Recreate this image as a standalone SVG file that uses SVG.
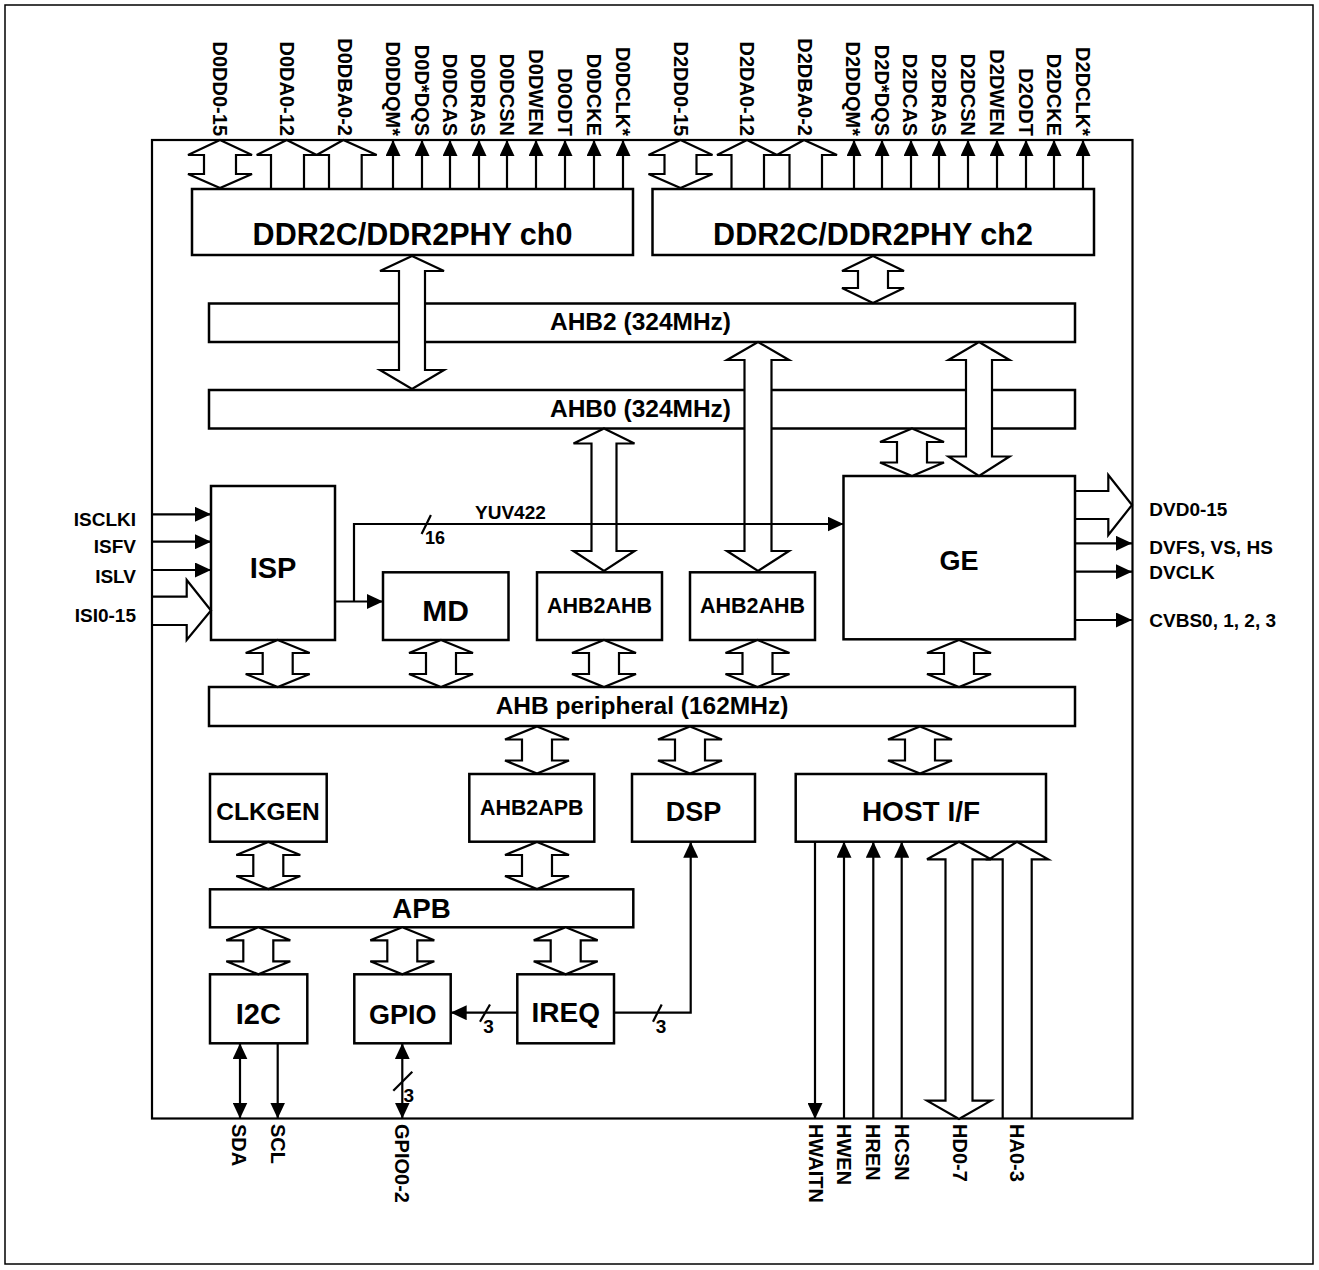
<svg xmlns="http://www.w3.org/2000/svg" xmlns:xlink="http://www.w3.org/1999/xlink" width="1319" height="1270" viewBox="0 0 1319 1270">
<style>
.b{fill:#fff;stroke:#000;stroke-width:2.5}
.fa{fill:#fff;stroke:#000;stroke-width:2.2;stroke-linejoin:miter}
.oa{fill:none;stroke:#000;stroke-width:2.2;stroke-linejoin:miter}
.ln{fill:none;stroke:#000;stroke-width:2.2}
.t{font-family:"Liberation Sans",Arial,sans-serif;font-weight:bold;fill:#000}
.m{text-anchor:middle}
.e{text-anchor:end}
.p{font-size:20px}
.s{font-size:19px}
</style>
<defs>
<marker id="ah" viewBox="0 0 16 15" refX="16" refY="7.5" markerWidth="16" markerHeight="15" markerUnits="userSpaceOnUse" orient="auto-start-reverse"><path d="M0,0 L16,7.5 L0,15 z" fill="#000"/></marker>
<polygon id="bd" class="fa" points="0,0 32,13 15,13 15,34 32,34 0,47 -32,34 -15,34 -15,13 -32,13"/>
</defs>
<rect x="0" y="0" width="1319" height="1270" fill="#fff"/>
<rect x="5" y="5" width="1308" height="1259" fill="none" stroke="#000" stroke-width="1.5"/>
<g id="chip"><rect x="152" y="140" width="980.5" height="978.5" fill="none" stroke="#000" stroke-width="2.2"/></g>

<g id="ddr0"><rect class="b" x="192" y="189" width="441" height="66"/><text class="t m" x="412.5" y="245" font-size="30.5">DDR2C/DDR2PHY ch0</text></g>
<g id="ddr2"><rect class="b" x="652.5" y="189" width="441.5" height="66"/><text class="t m" x="873" y="245" font-size="30.5">DDR2C/DDR2PHY ch2</text></g>
<g id="ahb2"><rect class="b" x="209" y="303.5" width="866" height="38.5"/><text class="t m" x="640.5" y="330" font-size="24.5">AHB2 (324MHz)</text></g>
<g id="ahb0"><rect class="b" x="209" y="390" width="866" height="38.5"/><text class="t m" x="640.5" y="416.7" font-size="24.5">AHB0 (324MHz)</text></g>
<g id="isp"><rect class="b" x="211" y="486" width="124" height="154"/><text class="t m" x="273" y="578.3" font-size="29">ISP</text></g>
<g id="md"><rect class="b" x="383" y="572.3" width="125.5" height="67.7"/><text class="t m" x="445.7" y="621" font-size="30">MD</text></g>
<g id="ahb2ahb1"><rect class="b" x="537" y="572.3" width="125" height="67.7"/><text class="t m" x="599.5" y="613" font-size="21.5">AHB2AHB</text></g>
<g id="ahb2ahb2"><rect class="b" x="690" y="572.3" width="125" height="67.7"/><text class="t m" x="752.5" y="613" font-size="21.5">AHB2AHB</text></g>
<g id="ge"><rect class="b" x="843.5" y="476" width="231.5" height="163.3"/><text class="t m" x="959" y="570" font-size="27">GE</text></g>
<g id="ahbp"><rect class="b" x="209" y="687" width="866" height="39"/><text class="t m" x="642" y="713.5" font-size="24.5">AHB peripheral (162MHz)</text></g>
<g id="clkgen"><rect class="b" x="210" y="774" width="116.7" height="67.7"/><text class="t m" x="268" y="820" font-size="24.5">CLKGEN</text></g>
<g id="ahb2apb"><rect class="b" x="469.3" y="774" width="125" height="67.7"/><text class="t m" x="531.7" y="815" font-size="21.4">AHB2APB</text></g>
<g id="dsp"><rect class="b" x="632" y="774" width="123" height="67.7"/><text class="t m" x="693.5" y="821" font-size="27">DSP</text></g>
<g id="host"><rect class="b" x="795.7" y="774" width="250.3" height="67.7"/><text class="t m" x="921" y="821" font-size="28">HOST I/F</text></g>
<g id="apb"><rect class="b" x="210" y="889.3" width="423.3" height="38"/><text class="t m" x="421.5" y="918.3" font-size="27.7">APB</text></g>
<g id="i2c"><rect class="b" x="210" y="974.3" width="97.3" height="69"/><text class="t m" x="258.3" y="1024" font-size="29">I2C</text></g>
<g id="gpio"><rect class="b" x="354.3" y="974.3" width="96.4" height="69"/><text class="t m" x="402.8" y="1024" font-size="27">GPIO</text></g>
<g id="ireq"><rect class="b" x="517.3" y="974.3" width="96.7" height="69"/><text class="t m" x="565.8" y="1021.7" font-size="28">IREQ</text></g>

<g id="connectors">
<!-- DDR ch0 pins -->
<polygon class="fa" points="220,140 252,155 236,155 236,174 252,174 220,188 188,174 204,174 204,155 188,155"/>
<polyline class="oa" points="271,189 271,155 256.7,155 286.7,140 316.7,155 304,155 304,189"/>
<polyline class="oa" points="329,189 329,155 316.7,155 343.3,140 376.7,155 361.7,155 361.7,189"/>
<g class="ln" marker-end="url(#ah)">
<line x1="393" y1="189" x2="393" y2="140"/><line x1="422" y1="189" x2="422" y2="140"/><line x1="450" y1="189" x2="450" y2="140"/>
<line x1="479" y1="189" x2="479" y2="140"/><line x1="507" y1="189" x2="507" y2="140"/><line x1="536" y1="189" x2="536" y2="140"/>
<line x1="565" y1="189" x2="565" y2="140"/><line x1="594" y1="189" x2="594" y2="140"/><line x1="623" y1="189" x2="623" y2="140"/>
</g>
<!-- DDR ch2 pins -->
<polygon class="fa" points="680.5,140 712.5,155 696.5,155 696.5,174 712.5,174 680.5,188 648.5,174 664.5,174 664.5,155 648.5,155"/>
<polyline class="oa" points="731.5,189 731.5,155 717,155 747,140 777,155 764,155 764,189"/>
<polyline class="oa" points="789.5,189 789.5,155 777,155 804,140 837,155 822,155 822,189"/>
<g class="ln" marker-end="url(#ah)">
<line x1="854" y1="189" x2="854" y2="140"/><line x1="882" y1="189" x2="882" y2="140"/><line x1="911" y1="189" x2="911" y2="140"/>
<line x1="939" y1="189" x2="939" y2="140"/><line x1="968" y1="189" x2="968" y2="140"/><line x1="997" y1="189" x2="997" y2="140"/>
<line x1="1026" y1="189" x2="1026" y2="140"/><line x1="1054" y1="189" x2="1054" y2="140"/><line x1="1083" y1="189" x2="1083" y2="140"/>
</g>
<!-- bus arrows -->
<polygon class="fa" points="412,256 444,271 425,271 425,370 444,370 412,389 380,370 399,370 399,271 380,271"/>
<polygon class="fa" points="873,256 904,271 888,271 888,288 904,288 873,303 842,288 858,288 858,271 842,271"/>
<polygon class="fa" points="758,342 789,360 771.5,360 771.5,551 789,551 758,571 727,551 744.5,551 744.5,360 727,360"/>
<polygon class="fa" points="979,342 1009.5,360 992,360 992,456.5 1009.5,456.5 979,476 948.5,456.5 966,456.5 966,360 948.5,360"/>
<polygon class="fa" points="604,428.5 634.5,443.5 616.5,443.5 616.5,551 634.5,551 604,571 573.5,551 591.5,551 591.5,443.5 573.5,443.5"/>
<polygon class="fa" points="912,428.5 944,442 927,442 927,462.5 944,462.5 912,476 880,462.5 897,462.5 897,442 880,442"/>
<use xlink:href="#bd" x="277.7" y="640"/>
<use xlink:href="#bd" x="441" y="640"/>
<use xlink:href="#bd" x="604" y="640"/>
<use xlink:href="#bd" x="757.5" y="640"/>
<use xlink:href="#bd" x="959" y="640"/>
<use xlink:href="#bd" x="537" y="726.5"/>
<use xlink:href="#bd" x="690" y="726.5"/>
<use xlink:href="#bd" x="920" y="726.5"/>
<use xlink:href="#bd" x="268.3" y="842"/>
<use xlink:href="#bd" x="537" y="842"/>
<use xlink:href="#bd" x="258.3" y="927.3"/>
<use xlink:href="#bd" x="402.3" y="927.3"/>
<use xlink:href="#bd" x="565.7" y="927.3"/>
<!-- signal lines -->
<g class="ln" marker-end="url(#ah)">
<line x1="152" y1="514.3" x2="211" y2="514.3"/>
<line x1="152" y1="541.7" x2="211" y2="541.7"/>
<line x1="152" y1="570" x2="211" y2="570"/>
<line x1="335" y1="601.5" x2="383" y2="601.5"/>
<polyline points="354,601.5 354,524 843.5,524"/>
<line x1="1075" y1="543.3" x2="1132" y2="543.3"/>
<line x1="1075" y1="571.7" x2="1132" y2="571.7"/>
<line x1="1075" y1="620" x2="1132" y2="620"/>
<line x1="517.3" y1="1012.7" x2="450.7" y2="1012.7"/>
<polyline points="614,1012.7 690.7,1012.7 690.7,841.7"/>
<line x1="277.7" y1="1043.3" x2="277.7" y2="1118.5"/>
<line x1="815" y1="841.7" x2="815" y2="1119"/>
<line x1="844" y1="1119" x2="844" y2="841.7"/>
<line x1="873.3" y1="1119" x2="873.3" y2="841.7"/>
<line x1="901.7" y1="1119" x2="901.7" y2="841.7"/>
</g>
<g class="ln" marker-start="url(#ah)" marker-end="url(#ah)">
<line x1="240" y1="1043.3" x2="240" y2="1118.5"/>
<line x1="402.3" y1="1043.3" x2="402.3" y2="1118.5"/>
</g>
<polyline class="oa" points="152,596.7 186.7,596.7 186.7,580 211,610.5 186.7,640 186.7,625 152,625"/>
<polyline class="oa" points="1075,491 1108.3,491 1108.3,475 1132,505 1108.3,535 1108.3,519 1075,519"/>
<polygon class="fa" points="959,841.7 991,859.3 972.5,859.3 972.5,1100.7 991,1100.7 959,1119 927,1100.7 945.5,1100.7 945.5,859.3 927,859.3"/>
<polyline class="oa" points="1002.7,1119 1002.7,859.3 989,859.3 1017,841.7 1048.3,859.3 1031.7,859.3 1031.7,1119"/>
<!-- bus-width slashes -->
<g class="ln">
<line x1="421.6" y1="534" x2="430.9" y2="515"/>
<line x1="480" y1="1021.7" x2="490" y2="1004.5"/>
<line x1="653" y1="1021.7" x2="661.7" y2="1004.5"/>
<line x1="393.3" y1="1090.7" x2="412.3" y2="1071.7"/>
</g>
</g>

<g id="labels" class="t">
<text class="s" x="475" y="519.3">YUV422</text>
<text x="425" y="544" font-size="18">16</text>
<text class="s m" x="488.5" y="1033.3">3</text>
<text class="s m" x="661" y="1033.3">3</text>
<text class="s" x="403.5" y="1101.7">3</text>
<text class="s e" x="136" y="526">ISCLKI</text>
<text class="s e" x="136" y="553.3">ISFV</text>
<text class="s e" x="136" y="582.7">ISLV</text>
<text class="s e" x="136" y="621.7">ISI0-15</text>
<text class="s" x="1149.3" y="516">DVD0-15</text>
<text class="s" x="1149.3" y="554">DVFS, VS, HS</text>
<text class="s" x="1149.3" y="579.3">DVCLK</text>
<text class="s" x="1149.3" y="626.7">CVBS0, 1, 2, 3</text>
<g class="p e">
<text transform="translate(213,136) rotate(90)">D0DD0-15</text>
<text transform="translate(280.3,136) rotate(90)">D0DA0-12</text>
<text transform="translate(338,136) rotate(90)">D0DBA0-2</text>
<text transform="translate(386.3,136) rotate(90)">D0DDQM*</text>
<text transform="translate(415,136) rotate(90)">D0D*DQS</text>
<text transform="translate(443,136) rotate(90)">D0DCAS</text>
<text transform="translate(471,136) rotate(90)">D0DRAS</text>
<text transform="translate(500,136) rotate(90)">D0DCSN</text>
<text transform="translate(529,136) rotate(90)">D0DWEN</text>
<text transform="translate(558,136) rotate(90)">D0ODT</text>
<text transform="translate(587,136) rotate(90)">D0DCKE</text>
<text transform="translate(616,136) rotate(90)">D0DCLK*</text>
<text transform="translate(673.7,136) rotate(90)">D2DD0-15</text>
<text transform="translate(740.3,136) rotate(90)">D2DA0-12</text>
<text transform="translate(798,136) rotate(90)">D2DBA0-2</text>
<text transform="translate(846.3,136) rotate(90)">D2DDQM*</text>
<text transform="translate(875.3,136) rotate(90)">D2D*DQS</text>
<text transform="translate(903,136) rotate(90)">D2DCAS</text>
<text transform="translate(932,136) rotate(90)">D2DRAS</text>
<text transform="translate(961.3,136) rotate(90)">D2DCSN</text>
<text transform="translate(989.7,136) rotate(90)">D2DWEN</text>
<text transform="translate(1018.7,136) rotate(90)">D2ODT</text>
<text transform="translate(1047.3,136) rotate(90)">D2DCKE</text>
<text transform="translate(1076.3,136) rotate(90)">D2DCLK*</text>
</g>
<g class="p">
<text transform="translate(232.2,1124) rotate(90)">SDA</text>
<text transform="translate(270.5,1124) rotate(90)">SCL</text>
<text transform="translate(395.3,1124) rotate(90)">GPIO0-2</text>
<text transform="translate(808.8,1124) rotate(90)">HWAITN</text>
<text transform="translate(837,1124) rotate(90)">HWEN</text>
<text transform="translate(866,1124) rotate(90)">HREN</text>
<text transform="translate(895,1124) rotate(90)">HCSN</text>
<text transform="translate(953,1124) rotate(90)">HD0-7</text>
<text transform="translate(1009.7,1124) rotate(90)">HA0-3</text>
</g>
</g>
</svg>
